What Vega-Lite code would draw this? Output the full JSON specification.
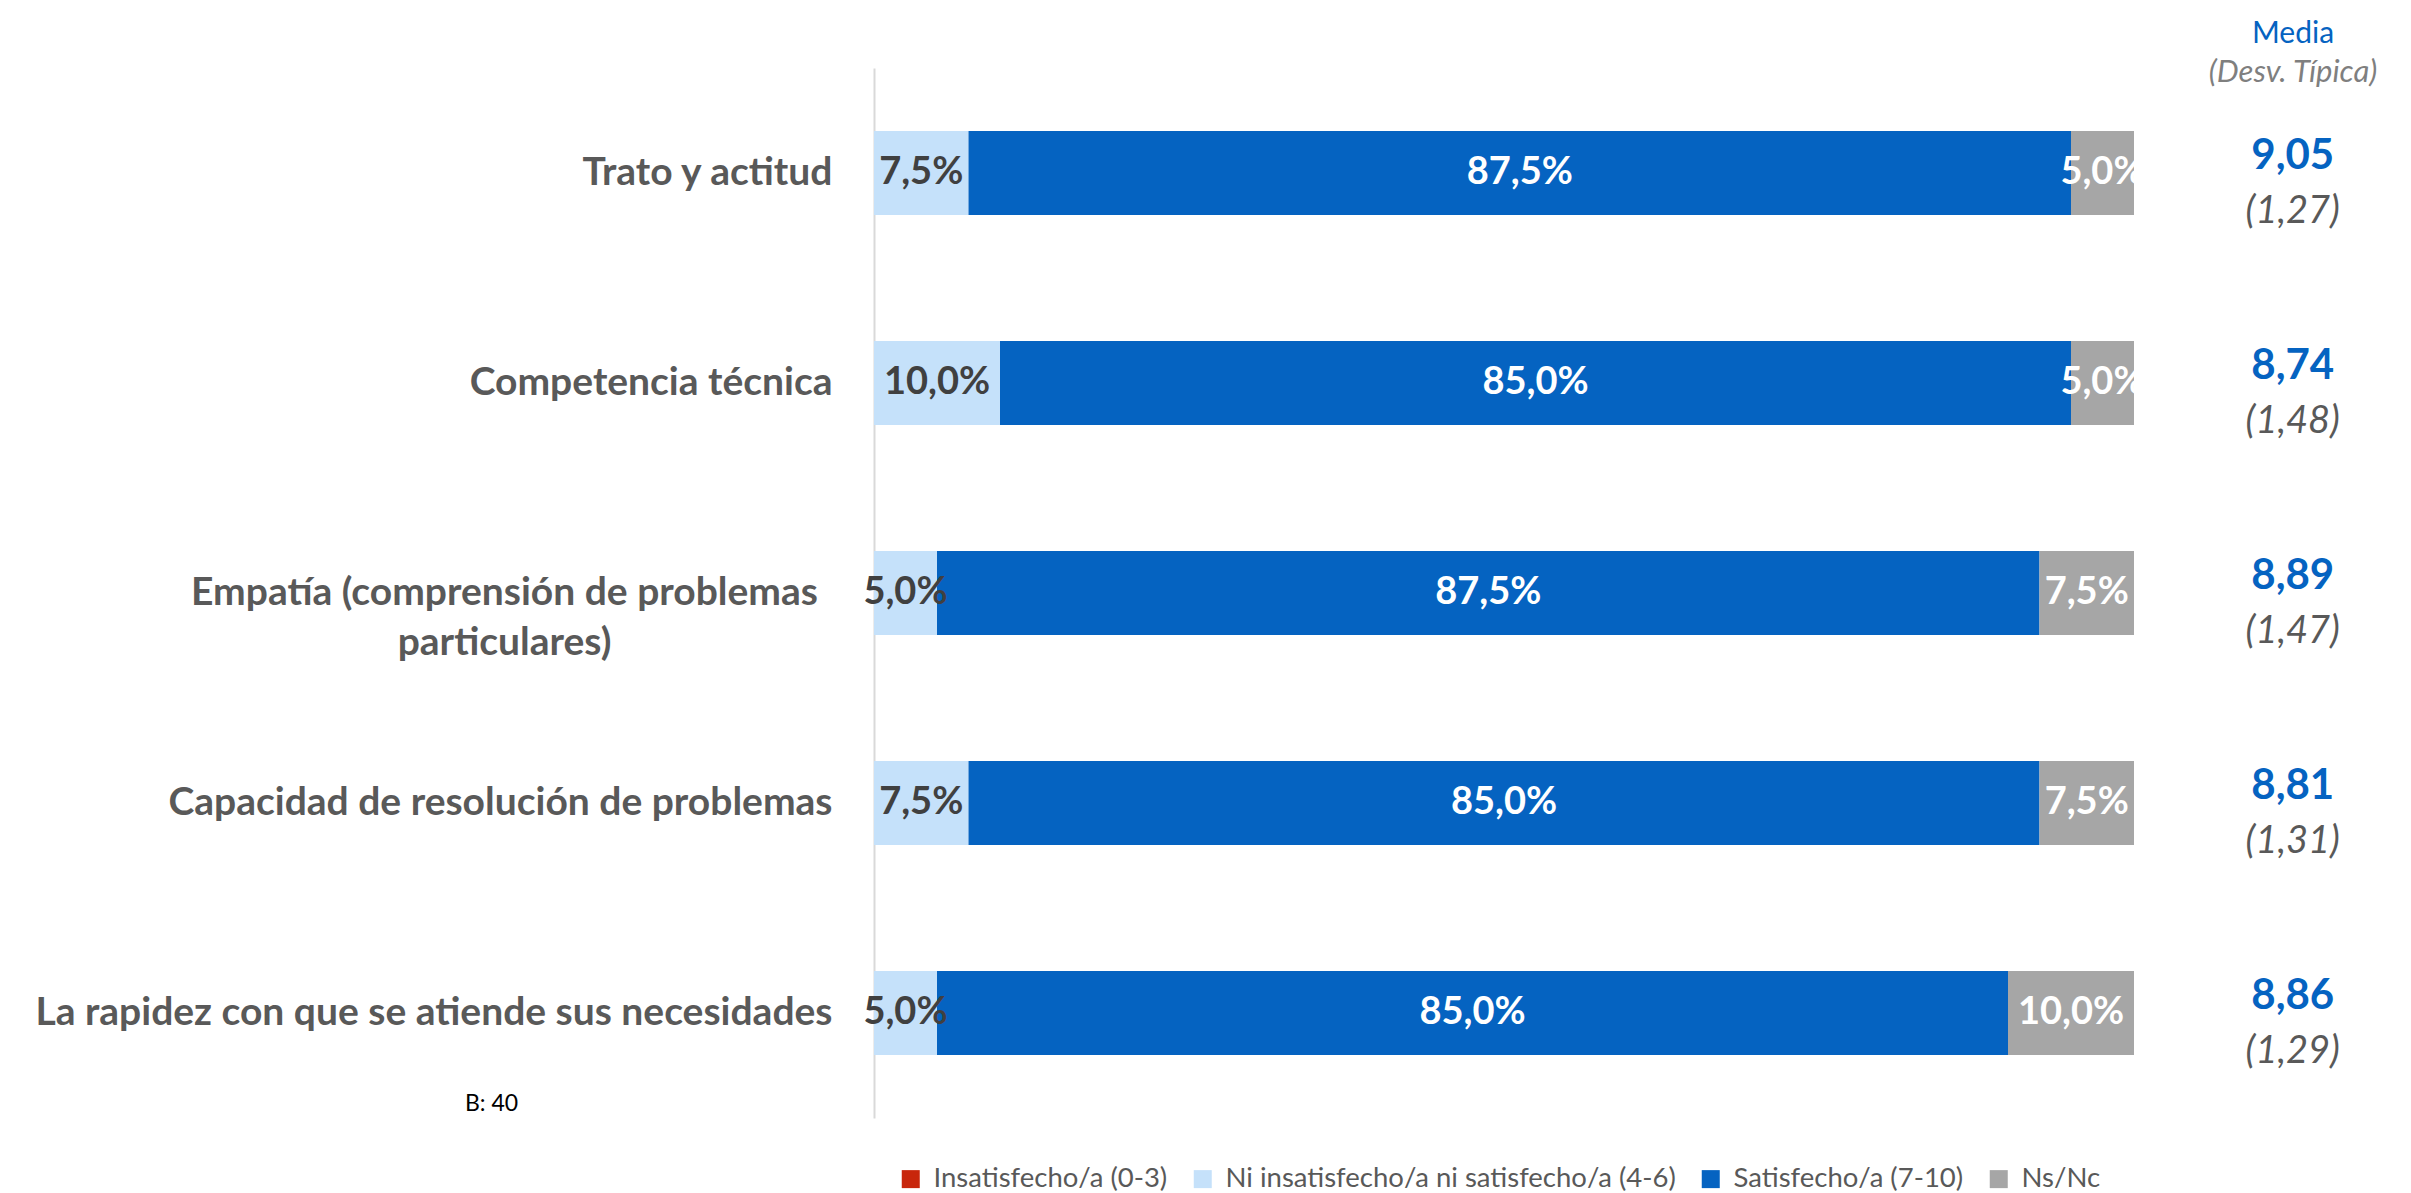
{
  "$schema": "https://vega.github.io/schema/vega-lite/v6.json",
  "width": 1512,
  "height": 1050,
  "autosize": {"type": "none"},
  "padding": {"left": 874, "top": 68, "right": 25, "bottom": 75},
  "background": "white",
  "config": {"view": {"stroke": null}},
  "title": {
    "text": "Media",
    "subtitle": "(Desv. Típica)",
    "anchor": "end",
    "align": "center",
    "dx": -93,
    "offset": -20,
    "font": "Lato",
    "fontSize": 30,
    "fontWeight": "normal",
    "color": "#0563C1",
    "subtitleFont": "Lato",
    "subtitleFontSize": 31,
    "subtitleFontStyle": "italic",
    "subtitleColor": "#7F7F7F",
    "subtitlePadding": 9
  },
  "datasets": {
    "pct": [
      {"aspecto": "Trato y actitud", "respuesta": "Insatisfecho/a (0-3)", "porcentaje": 0},
      {"aspecto": "Trato y actitud", "respuesta": "Ni insatisfecho/a ni satisfecho/a (4-6)", "porcentaje": 7.5},
      {"aspecto": "Trato y actitud", "respuesta": "Satisfecho/a (7-10)", "porcentaje": 87.5},
      {"aspecto": "Trato y actitud", "respuesta": "Ns/Nc", "porcentaje": 5.0},
      {"aspecto": "Competencia técnica", "respuesta": "Insatisfecho/a (0-3)", "porcentaje": 0},
      {"aspecto": "Competencia técnica", "respuesta": "Ni insatisfecho/a ni satisfecho/a (4-6)", "porcentaje": 10.0},
      {"aspecto": "Competencia técnica", "respuesta": "Satisfecho/a (7-10)", "porcentaje": 85.0},
      {"aspecto": "Competencia técnica", "respuesta": "Ns/Nc", "porcentaje": 5.0},
      {"aspecto": "Empatía (comprensión de problemas particulares)", "respuesta": "Insatisfecho/a (0-3)", "porcentaje": 0},
      {"aspecto": "Empatía (comprensión de problemas particulares)", "respuesta": "Ni insatisfecho/a ni satisfecho/a (4-6)", "porcentaje": 5.0},
      {"aspecto": "Empatía (comprensión de problemas particulares)", "respuesta": "Satisfecho/a (7-10)", "porcentaje": 87.5},
      {"aspecto": "Empatía (comprensión de problemas particulares)", "respuesta": "Ns/Nc", "porcentaje": 7.5},
      {"aspecto": "Capacidad de resolución de problemas", "respuesta": "Insatisfecho/a (0-3)", "porcentaje": 0},
      {"aspecto": "Capacidad de resolución de problemas", "respuesta": "Ni insatisfecho/a ni satisfecho/a (4-6)", "porcentaje": 7.5},
      {"aspecto": "Capacidad de resolución de problemas", "respuesta": "Satisfecho/a (7-10)", "porcentaje": 85.0},
      {"aspecto": "Capacidad de resolución de problemas", "respuesta": "Ns/Nc", "porcentaje": 7.5},
      {"aspecto": "La rapidez con que se atiende sus necesidades", "respuesta": "Insatisfecho/a (0-3)", "porcentaje": 0},
      {"aspecto": "La rapidez con que se atiende sus necesidades", "respuesta": "Ni insatisfecho/a ni satisfecho/a (4-6)", "porcentaje": 5.0},
      {"aspecto": "La rapidez con que se atiende sus necesidades", "respuesta": "Satisfecho/a (7-10)", "porcentaje": 85.0},
      {"aspecto": "La rapidez con que se atiende sus necesidades", "respuesta": "Ns/Nc", "porcentaje": 10.0}
    ],
    "stats": [
      {"aspecto": "Trato y actitud", "media": 9.05, "desv": 1.27},
      {"aspecto": "Competencia técnica", "media": 8.74, "desv": 1.48},
      {"aspecto": "Empatía (comprensión de problemas particulares)", "media": 8.89, "desv": 1.47},
      {"aspecto": "Capacidad de resolución de problemas", "media": 8.81, "desv": 1.31},
      {"aspecto": "La rapidez con que se atiende sus necesidades", "media": 8.86, "desv": 1.29}
    ]
  },
  "layer": [
    {
      "data": {"name": "pct"},
      "transform": [
        {"calculate": "indexof(['Insatisfecho/a (0-3)', 'Ni insatisfecho/a ni satisfecho/a (4-6)', 'Satisfecho/a (7-10)', 'Ns/Nc'], datum.respuesta)", "as": "orden"}
      ],
      "mark": {"type": "bar"},
      "encoding": {
        "y": {
          "field": "aspecto",
          "type": "nominal",
          "sort": ["Trato y actitud", "Competencia técnica", "Empatía (comprensión de problemas particulares)", "Capacidad de resolución de problemas", "La rapidez con que se atiende sus necesidades"],
          "scale": {"paddingInner": 0.6, "paddingOuter": 0.3},
          "axis": {
            "title": "B: 40",
            "titleAngle": 0,
            "titleX": -383,
            "titleY": 1042,
            "titleAlign": "center",
            "titleBaseline": "alphabetic",
            "titleFont": "Lato",
            "titleFontSize": 23,
            "titleFontWeight": "normal",
            "titleColor": "#000000",
            "labelFont": "Lato",
            "labelFontSize": 39,
            "labelFontWeight": "bold",
            "labelColor": "#595959",
            "labelLimit": 1200,
            "labelLineHeight": 50,
            "labelExpr": "datum.value == 'Empatía (comprensión de problemas particulares)' ? ['Empatía (comprensión de problemas', 'particulares)'] : datum.value",
            "labelAlign": {"condition": {"test": "datum.value == 'Empatía (comprensión de problemas particulares)'", "value": "center"}, "value": "right"},
            "labelPadding": {"condition": {"test": "datum.value == 'Empatía (comprensión de problemas particulares)'", "value": 370}, "value": 42},
            "ticks": false,
            "tickSize": 0,
            "grid": false,
            "domainColor": "#D9D9D9",
            "domainWidth": 2
          }
        },
        "x": {"field": "porcentaje", "type": "quantitative", "stack": "zero", "scale": {"domain": [0, 120], "nice": false}, "axis": null},
        "color": {
          "field": "respuesta",
          "type": "nominal",
          "scale": {
            "domain": ["Insatisfecho/a (0-3)", "Ni insatisfecho/a ni satisfecho/a (4-6)", "Satisfecho/a (7-10)", "Ns/Nc"],
            "range": ["#C8260C", "#C5E1FA", "#0563C1", "#A6A6A6"]
          },
          "legend": {
            "orient": "none",
            "legendX": 23,
            "legendY": 1097,
            "direction": "horizontal",
            "title": null,
            "labelFont": "Lato",
            "labelFontSize": 27.5,
            "labelColor": "#595959",
            "symbolType": "square",
            "symbolSize": 324,
            "symbolStrokeWidth": 0,
            "labelOffset": 9,
            "columnPadding": 21,
            "padding": 0,
            "labelLimit": 1000
          }
        },
        "order": {"field": "orden", "type": "quantitative"}
      }
    },
    {
      "data": {"name": "pct"},
      "transform": [
        {"calculate": "indexof(['Insatisfecho/a (0-3)', 'Ni insatisfecho/a ni satisfecho/a (4-6)', 'Satisfecho/a (7-10)', 'Ns/Nc'], datum.respuesta)", "as": "orden"},
        {"stack": "porcentaje", "groupby": ["aspecto"], "sort": [{"field": "orden"}], "as": ["x0", "x1"]},
        {"filter": "datum.porcentaje > 0"},
        {"calculate": "(datum.x0 + datum.x1) / 2", "as": "xm"},
        {"calculate": "replace(format(datum.porcentaje, '.1f'), '.', ',') + '%'", "as": "etiqueta"}
      ],
      "mark": {"type": "text", "font": "Lato", "fontSize": 38, "fontWeight": "bold", "align": "center", "baseline": "middle"},
      "encoding": {
        "y": {"field": "aspecto", "type": "nominal", "sort": ["Trato y actitud", "Competencia técnica", "Empatía (comprensión de problemas particulares)", "Capacidad de resolución de problemas", "La rapidez con que se atiende sus necesidades"]},
        "x": {"field": "xm", "type": "quantitative"},
        "text": {"field": "etiqueta"},
        "color": {"condition": {"test": "datum.respuesta == 'Ni insatisfecho/a ni satisfecho/a (4-6)'", "value": "#404040"}, "value": "#FFFFFF"}
      }
    },
    {
      "data": {"name": "stats"},
      "transform": [
        {"calculate": "replace(format(datum.media, '.2f'), '.', ',')", "as": "media_txt"}
      ],
      "mark": {"type": "text", "font": "Lato", "fontSize": 42, "fontWeight": "bold", "align": "center", "baseline": "alphabetic", "dy": -4, "color": "#0563C1"},
      "encoding": {
        "y": {"field": "aspecto", "type": "nominal", "sort": ["Trato y actitud", "Competencia técnica", "Empatía (comprensión de problemas particulares)", "Capacidad de resolución de problemas", "La rapidez con que se atiende sus necesidades"]},
        "x": {"datum": 112.6, "type": "quantitative"},
        "text": {"field": "media_txt"}
      }
    },
    {
      "data": {"name": "stats"},
      "transform": [
        {"calculate": "'(' + replace(format(datum.desv, '.2f'), '.', ',') + ')'", "as": "desv_txt"}
      ],
      "mark": {"type": "text", "font": "Lato", "fontSize": 38, "fontStyle": "italic", "align": "center", "baseline": "alphabetic", "dy": 50, "color": "#595959"},
      "encoding": {
        "y": {"field": "aspecto", "type": "nominal", "sort": ["Trato y actitud", "Competencia técnica", "Empatía (comprensión de problemas particulares)", "Capacidad de resolución de problemas", "La rapidez con que se atiende sus necesidades"]},
        "x": {"datum": 112.6, "type": "quantitative"},
        "text": {"field": "desv_txt"}
      }
    }
  ]
}
